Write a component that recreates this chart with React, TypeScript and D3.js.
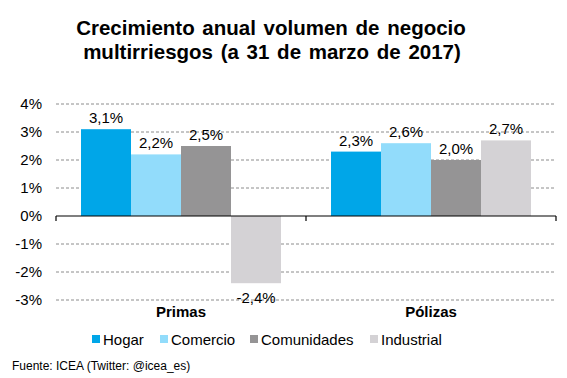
import React from "react";
import * as d3 from "d3";

const categories = ["Primas", "Pólizas"];
const seriesNames = ["Hogar", "Comercio", "Comunidades", "Industrial"];
const seriesColors = ["#00a6e8", "#92dcfb", "#959495", "#d4d2d5"];
const values: number[][] = [
  [3.1, 2.3],
  [2.2, 2.6],
  [2.5, 2.0],
  [-2.4, 2.7],
];
const ticks = [4, 3, 2, 1, 0, -1, -2, -3];

export default function App() {
  const W = 567, H = 378;
  const left = 56, right = 556, top = 104, bottom = 300;
  const y = d3.scaleLinear().domain([-3, 4]).range([bottom, top]);
  const x0 = d3.scaleBand().domain(categories).range([left, right]).paddingInner(0).paddingOuter(0);
  const x1 = d3.scaleBand().domain(seriesNames).range([0, x0.bandwidth()]).paddingInner(0).paddingOuter(0.5);
  const font = "Arial, 'Liberation Sans', sans-serif";
  const fmt = (v: number) => v.toFixed(1).replace(".", ",") + "%";
  const legendX = [92, 160, 250, 370];

  return (
    <svg width={W} height={H} style={{ position: "absolute", left: 0, top: 0, background: "#fff" }} fontFamily={font}>
      <rect width={W} height={H} fill="#fff" />
      <text x={271} y={35} textAnchor="middle" fontSize={20.5} fontWeight="bold" wordSpacing={2}>Crecimiento anual volumen de negocio</text>
      <text x={272} y={59} textAnchor="middle" fontSize={20.5} fontWeight="bold" wordSpacing={2}>multirriesgos  (a 31 de marzo de 2017)</text>
      {ticks.filter(t => t !== 0).map(t => (
        <line key={t} x1={left} x2={right} y1={y(t)} y2={y(t)} stroke="#8c8c8c" strokeWidth={1} strokeDasharray="3,2" />
      ))}
      {ticks.map(t => (
        <text key={t} x={42} y={y(t) + 5} textAnchor="end" fontSize={15}>{t}%</text>
      ))}
      {categories.map((c, ci) =>
        seriesNames.map((s, si) => {
          const v = values[si][ci];
          const bx = (x0(c) as number) + (x1(s) as number);
          const bw = x1.bandwidth();
          return (
            <g key={c + s}>
              <rect x={bx} y={Math.min(y(v), y(0))} width={bw} height={Math.abs(y(v) - y(0))} fill={seriesColors[si]} />
              <text x={bx + bw / 2} y={v >= 0 ? y(v) - 6 : y(v) + 20} textAnchor="middle" fontSize={15}>{fmt(v)}</text>
            </g>
          );
        })
      )}
      <line x1={left} x2={right} y1={y(0)} y2={y(0)} stroke="#000" strokeWidth={1.2} />
      {[left, left + x0.bandwidth(), right].map((tx, i) => (
        <line key={i} x1={tx} x2={tx} y1={y(0)} y2={y(0) + 5} stroke="#000" strokeWidth={1.2} />
      ))}
      {categories.map(c => (
        <text key={c} x={(x0(c) as number) + x0.bandwidth() / 2} y={317} textAnchor="middle" fontSize={15} fontWeight="bold">{c}</text>
      ))}
      {seriesNames.map((s, i) => (
        <g key={s}>
          <rect x={legendX[i]} y={335} width={8} height={8} fill={seriesColors[i]} />
          <text x={legendX[i] + 11} y={345} fontSize={15}>{s}</text>
        </g>
      ))}
      <text x={12} y={370} fontSize={12}>Fuente: ICEA (Twitter: @icea_es)</text>
    </svg>
  );
}
